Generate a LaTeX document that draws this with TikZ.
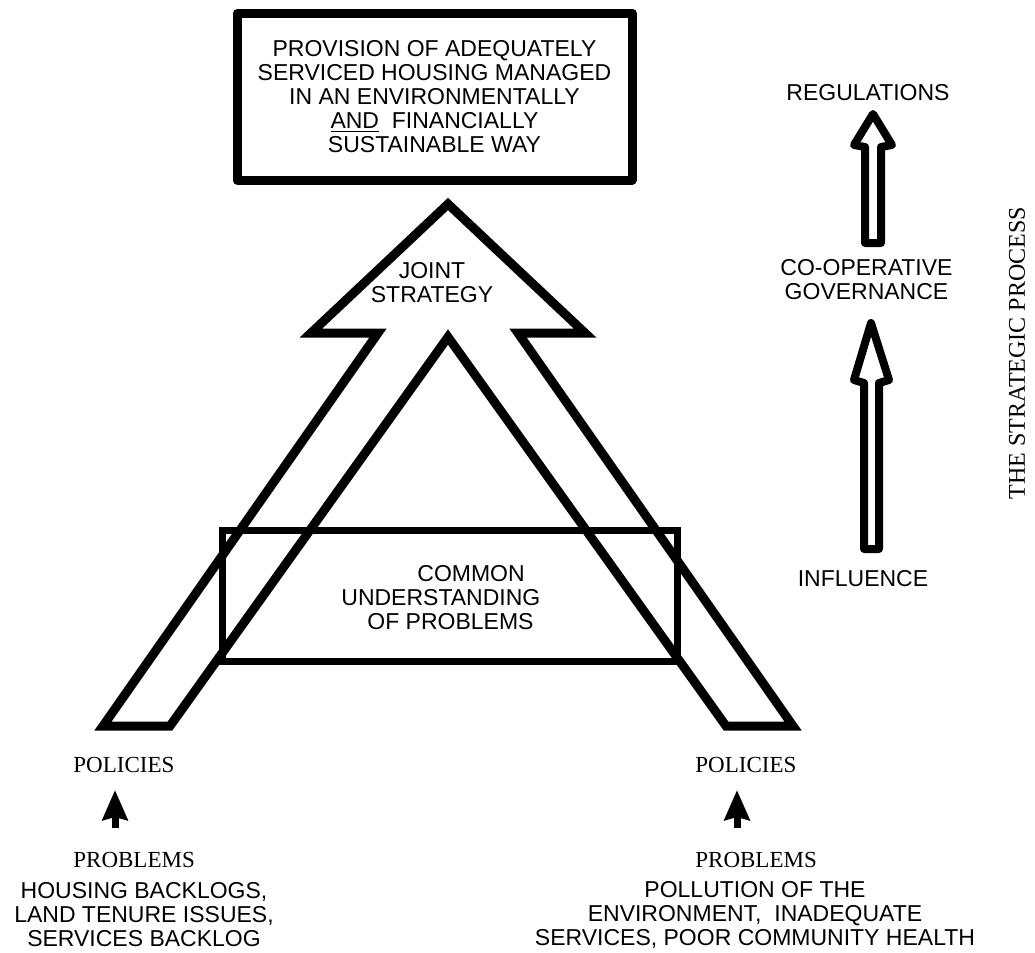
\documentclass[tikz,border=0pt]{standalone}
\usepackage{fontspec}
\setmainfont{Liberation Sans}
\newfontfamily\serifface{Liberation Serif}
\usetikzlibrary{arrows.meta}

\tikzset{
  sanstext/.style={font=\fontsize{11.5}{12}\selectfont, align=center, inner sep=0pt},
  seriftext/.style={font=\serifface\fontsize{11.5}{12}\selectfont, inner sep=0pt},
  goalbox/.style={sanstext, draw, line width=4.5pt, line join=round,
    minimum width=197.5pt, minimum height=83.5pt},
  bigarrow/.style={line width=4.5pt},
  understandbox/.style={line width=3.5pt},
  hollowarrow/.style={line width=4pt, line join=round},
  smallarrow/.style={line width=3.5pt, -{Stealth[length=15pt, width=12.5pt, inset=1.5pt]}}
}

\begin{document}
\begin{tikzpicture}[x=0.5pt, y=-0.5pt]
  \useasboundingbox (0,0) rectangle (1035,953);

  % goalBox:
  %   the aim at the top of the joint strategy
  \node[goalbox] (goalBox) at (434.5,96.5)
    {PROVISION OF ADEQUATELY\\SERVICED HOUSING MANAGED\\IN AN ENVIRONMENTALLY\\
     \underline{AND}~ FINANCIALLY\\SUSTAINABLE WAY};

  % jointArrow:
  %   the two policy legs meet in one outlined arrow
  \draw[bigarrow] (448,204) -- (311,333) -- (378,333) -- (103,726) -- (170,726)
    -- (448,337) -- (726,726) -- (793,726) -- (518,333) -- (585,333) -- cycle;
  \node[sanstext] (jointStrategy) at (432,283) {JOINT\\STRATEGY};

  % commonUnderstanding:
  %   box laid across both legs
  \draw[understandbox] (222,530) rectangle (677,661);
  \node[sanstext, align=left, anchor=west] (commonUnderstanding) at (341,597.5)
    {\hspace*{38pt}COMMON\\UNDERSTANDING\\\hspace*{13pt}OF PROBLEMS};

  % strategic process:
  %   influence -> co-operative governance -> regulations
  \node[sanstext] (regulations) at (868,92.5) {REGULATIONS};
  \node[sanstext] (cooperative) at (866.5,280) {CO-OPERATIVE\\GOVERNANCE};
  \node[sanstext] (influence) at (863,578.5) {INFLUENCE};
  \draw[hollowarrow] (873,114) -- (892,145) -- (881,147) -- (881,243)
    -- (865,243) -- (865,147) -- (854,145) -- cycle;
  \draw[hollowarrow] (871,323) -- (889,380) -- (879,383) -- (879,549)
    -- (864,549) -- (864,383) -- (854,380) -- cycle;
  \node[seriftext, font=\serifface\fontsize{12}{12}\selectfont, rotate=90]
    (processTitle) at (1017,353) {THE STRATEGIC PROCESS};

  % left leg:
  %   housing problems feed the housing policies
  \node[seriftext, anchor=west] (policiesLeft) at (73,765) {POLICIES};
  \node[seriftext, anchor=west] (problemsLeft) at (73,860) {PROBLEMS};
  \node[sanstext] (causesLeft) at (144,915)
    {HOUSING BACKLOGS,\\LAND TENURE ISSUES,\\SERVICES BACKLOG};
  \coordinate (leftTail) at (115,828);
  \coordinate (leftTip) at (115,790);
  \draw[smallarrow] (leftTail) -- (leftTip);

  % right leg:
  %   environmental problems feed the environmental policies
  \node[seriftext, anchor=west] (policiesRight) at (695,765) {POLICIES};
  \node[seriftext, anchor=west] (problemsRight) at (695,860) {PROBLEMS};
  \node[sanstext] (causesRight) at (755,915)
    {POLLUTION OF THE\\ENVIRONMENT,~ INADEQUATE\\SERVICES, POOR COMMUNITY HEALTH};
  \coordinate (rightTail) at (737,828);
  \coordinate (rightTip) at (737,790);
  \draw[smallarrow] (rightTail) -- (rightTip);
\end{tikzpicture}
\end{document}
